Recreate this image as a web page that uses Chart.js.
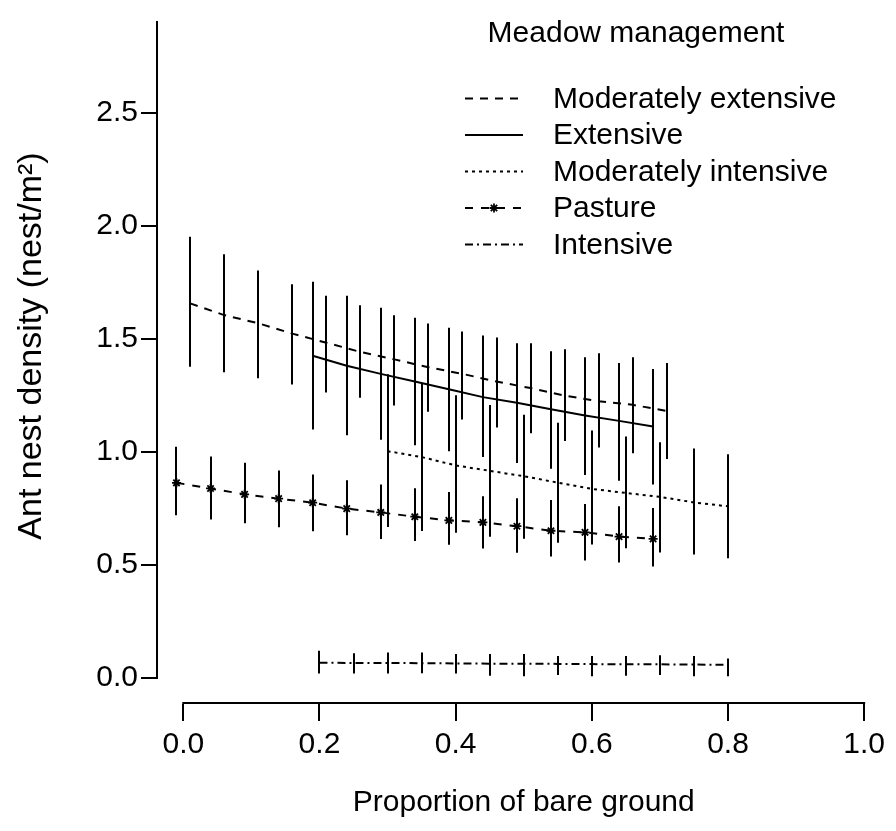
<!DOCTYPE html>
<html>
<head>
<meta charset="utf-8">
<script src="https://cdn.jsdelivr.net/npm/chart.js@4.4.1/dist/chart.umd.min.js"></script>
<style>
  html, body { margin: 0; padding: 0; background: #ffffff; }
  #wrap { width: 896px; height: 831px; position: relative; }
</style>
</head>
<body>
<div id="wrap"><canvas id="c"></canvas></div>
<script>
// ---- data: fitted nest density with confidence limits per meadow type ----
const seriesNames = ['Moderately extensive', 'Extensive', 'Moderately intensive', 'Pasture', 'Intensive'];
const legendTitle = 'Meadow management';
const xTitle = 'Proportion of bare ground';
const yTitle = 'Ant nest density (nest/m²)';
const xTicks = [0, 0.2, 0.4, 0.6, 0.8, 1.0];
const yTicks = [0, 0.5, 1.0, 1.5, 2.0, 2.5];

const modExtX    = [0.01, 0.06, 0.11, 0.16, 0.21, 0.26, 0.31, 0.36, 0.41, 0.46, 0.51, 0.56, 0.61, 0.66, 0.71];
const modExtMean = [1.657, 1.605, 1.569, 1.523, 1.483, 1.442, 1.409, 1.374, 1.345, 1.311, 1.282, 1.249, 1.224, 1.208, 1.181];
const modExtLow  = [1.377, 1.352, 1.326, 1.298, 1.263, 1.239, 1.205, 1.177, 1.143, 1.108, 1.082, 1.048, 1.019, 0.994, 0.968];
const modExtHigh = [1.951, 1.874, 1.802, 1.741, 1.691, 1.648, 1.604, 1.568, 1.532, 1.506, 1.480, 1.454, 1.436, 1.419, 1.393];

const extX    = [0.19, 0.24, 0.29, 0.34, 0.39, 0.44, 0.49, 0.54, 0.59, 0.64, 0.69];
const extMean = [1.425, 1.381, 1.345, 1.311, 1.277, 1.242, 1.217, 1.188, 1.161, 1.137, 1.112];
const extLow  = [1.099, 1.073, 1.054, 1.029, 1.003, 0.977, 0.951, 0.925, 0.898, 0.872, 0.855];
const extHigh = [1.752, 1.691, 1.638, 1.593, 1.549, 1.515, 1.480, 1.445, 1.419, 1.393, 1.366];

const modIntX    = [0.30, 0.35, 0.40, 0.45, 0.50, 0.55, 0.60, 0.65, 0.70, 0.75, 0.80];
const modIntMean = [1.003, 0.977, 0.940, 0.916, 0.892, 0.864, 0.836, 0.818, 0.801, 0.776, 0.759];
const modIntLow  = [0.667, 0.650, 0.642, 0.624, 0.615, 0.598, 0.590, 0.573, 0.555, 0.546, 0.529];
const modIntHigh = [1.343, 1.305, 1.250, 1.207, 1.164, 1.129, 1.094, 1.068, 1.042, 1.015, 0.989];

const pastX    = [-0.01, 0.04, 0.09, 0.14, 0.19, 0.24, 0.29, 0.34, 0.39, 0.44, 0.49, 0.54, 0.59, 0.64, 0.69];
const pastMean = [0.863, 0.838, 0.812, 0.793, 0.775, 0.749, 0.732, 0.713, 0.697, 0.688, 0.671, 0.651, 0.644, 0.625, 0.615];
const pastLow  = [0.719, 0.701, 0.684, 0.666, 0.649, 0.631, 0.614, 0.606, 0.589, 0.572, 0.554, 0.537, 0.519, 0.511, 0.493];
const pastHigh = [1.022, 0.979, 0.952, 0.918, 0.900, 0.874, 0.856, 0.839, 0.822, 0.804, 0.795, 0.787, 0.769, 0.759, 0.752];

const intX    = [0.20, 0.25, 0.30, 0.35, 0.40, 0.45, 0.50, 0.55, 0.60, 0.65, 0.70, 0.75, 0.80];
const intMean = [0.067, 0.066, 0.066, 0.065, 0.064, 0.063, 0.063, 0.062, 0.061, 0.060, 0.060, 0.059, 0.058];
const intLow  = [0.019, 0.019, 0.019, 0.021, 0.019, 0.010, 0.007, 0.013, 0.007, 0.010, 0.013, 0.007, 0.007];
const intHigh = [0.120, 0.109, 0.112, 0.112, 0.106, 0.106, 0.106, 0.097, 0.097, 0.097, 0.100, 0.097, 0.086];

const FONT = "'Liberation Sans', Arial, Helvetica, sans-serif";
const INK = '#000000';
const FS = 30;
const FS_YTITLE = 34;

const styles = [
  { dash: [8, 7] },
  { dash: [] },
  { dash: [3, 4] },
  { dash: [8, 8], star: true },
  { dash: [8, 4, 2, 4] }
];

function pts(xs, ys) { return xs.map((x, i) => ({ x: x, y: ys[i] })); }

function makeSet(i, xs, mean, low, high) {
  const st = styles[i];
  return {
    label: seriesNames[i],
    data: pts(xs, mean),
    errLow: low,
    errHigh: high,
    borderColor: INK,
    borderWidth: 2,
    borderDash: st.dash,
    tension: 0,
    fill: false,
    pointStyle: st.star ? 'star' : 'circle',
    pointRadius: st.star ? 4.5 : 0,
    pointHoverRadius: st.star ? 4.5 : 0,
    pointBorderColor: INK,
    pointBackgroundColor: INK,
    pointBorderWidth: 1.8
  };
}

const datasets = [
  makeSet(0, modExtX, modExtMean, modExtLow, modExtHigh),
  makeSet(1, extX, extMean, extLow, extHigh),
  makeSet(2, modIntX, modIntMean, modIntLow, modIntHigh),
  makeSet(3, pastX, pastMean, pastLow, pastHigh),
  makeSet(4, intX, intMean, intLow, intHigh)
];

// vertical confidence bars at every fitted point
const errorBars = {
  id: 'errorBars',
  beforeDatasetsDraw(chart) {
    const { ctx } = chart;
    const xs = chart.scales.x, ys = chart.scales.y;
    ctx.save();
    ctx.strokeStyle = INK;
    ctx.lineWidth = 2;
    ctx.setLineDash([]);
    chart.data.datasets.forEach(ds => {
      ds.data.forEach((p, i) => {
        const px = Math.round(xs.getPixelForValue(p.x));
        ctx.beginPath();
        ctx.moveTo(px, ys.getPixelForValue(ds.errHigh[i]));
        ctx.lineTo(px, ys.getPixelForValue(ds.errLow[i]));
        ctx.stroke();
      });
    });
    ctx.restore();
  }
};

// detached axis lines, axis titles and the key
const frame = {
  id: 'frame',
  afterDraw(chart) {
    const { ctx, chartArea } = chart;
    const xs = chart.scales.x, ys = chart.scales.y;
    ctx.save();
    ctx.strokeStyle = INK;
    ctx.lineWidth = 2;
    ctx.setLineDash([]);
    // y axis
    ctx.beginPath();
    ctx.moveTo(chartArea.left + 1, ys.getPixelForValue(0) + 1);
    ctx.lineTo(chartArea.left + 1, chartArea.top);
    ctx.stroke();
    // x axis
    ctx.beginPath();
    ctx.moveTo(xs.getPixelForValue(0) - 1, chartArea.bottom - 1);
    ctx.lineTo(xs.getPixelForValue(1) + 1, chartArea.bottom - 1);
    ctx.stroke();

    ctx.fillStyle = INK;
    ctx.font = FS + 'px ' + FONT;
    ctx.textBaseline = 'middle';
    ctx.textAlign = 'center';
    ctx.fillText(xTitle, (xs.getPixelForValue(-0.04) + xs.getPixelForValue(1.04)) / 2, 803);

    ctx.save();
    ctx.font = FS_YTITLE + 'px ' + FONT;
    ctx.textBaseline = 'alphabetic';
    ctx.translate(41, 346);
    ctx.rotate(-Math.PI / 2);
    ctx.fillText(yTitle, 0, 0);
    ctx.restore();

    // key
    ctx.textAlign = 'center';
    ctx.fillText(legendTitle, 636, 34);
    const rowY = [98.5, 135, 171.5, 208, 244.5];
    const x0 = 465, x1 = 523, tx = 553;
    seriesNames.forEach((name, i) => {
      const y = rowY[i];
      ctx.setLineDash(styles[i].dash);
      ctx.lineWidth = 2;
      ctx.beginPath();
      ctx.moveTo(x0, y);
      ctx.lineTo(x1, y);
      ctx.stroke();
      ctx.setLineDash([]);
      if (styles[i].star) {
        const cx = (x0 + x1) / 2, r = 4.5;
        ctx.lineWidth = 1.8;
        ctx.beginPath();
        for (let k = 0; k < 4; k++) {
          const a = k * Math.PI / 4;
          ctx.moveTo(cx - r * Math.cos(a), y - r * Math.sin(a));
          ctx.lineTo(cx + r * Math.cos(a), y + r * Math.sin(a));
        }
        ctx.stroke();
      }
      ctx.textAlign = 'left';
      ctx.fillText(name, tx, y + 1);
    });
    ctx.restore();
  }
};

new Chart(document.getElementById('c'), {
  type: 'line',
  data: { datasets: datasets },
  plugins: [errorBars, frame],
  options: {
    responsive: true,
    maintainAspectRatio: false,
    animation: false,
    layout: { padding: { top: 13, left: 0, right: 0, bottom: 0 } },
    plugins: { legend: { display: false }, tooltip: { enabled: false } },
    scales: {
      x: {
        type: 'linear',
        min: -0.0401,
        max: 1.0375,
        afterBuildTicks: s => { s.ticks = xTicks.map(v => ({ value: v })); },
        afterFit: s => { s.height = 127; },
        grid: { display: true, drawOnChartArea: false, drawTicks: true, tickLength: 17, color: INK, lineWidth: 2 },
        border: { display: false },
        ticks: { color: INK, font: { family: FONT, size: FS }, padding: 6, maxRotation: 0,
                 callback: v => Number(v).toFixed(1) }
      },
      y: {
        type: 'linear',
        min: -0.1155,
        max: 2.906,
        afterBuildTicks: s => { s.ticks = yTicks.map(v => ({ value: v })); },
        afterFit: s => { s.width = 156; },
        grid: { display: true, drawOnChartArea: false, drawTicks: true, tickLength: 15, color: INK, lineWidth: 2 },
        border: { display: false },
        ticks: { color: INK, font: { family: FONT, size: FS }, padding: 3,
                 callback: v => Number(v).toFixed(1) }
      }
    }
  }
});
</script>
</body>
</html>
